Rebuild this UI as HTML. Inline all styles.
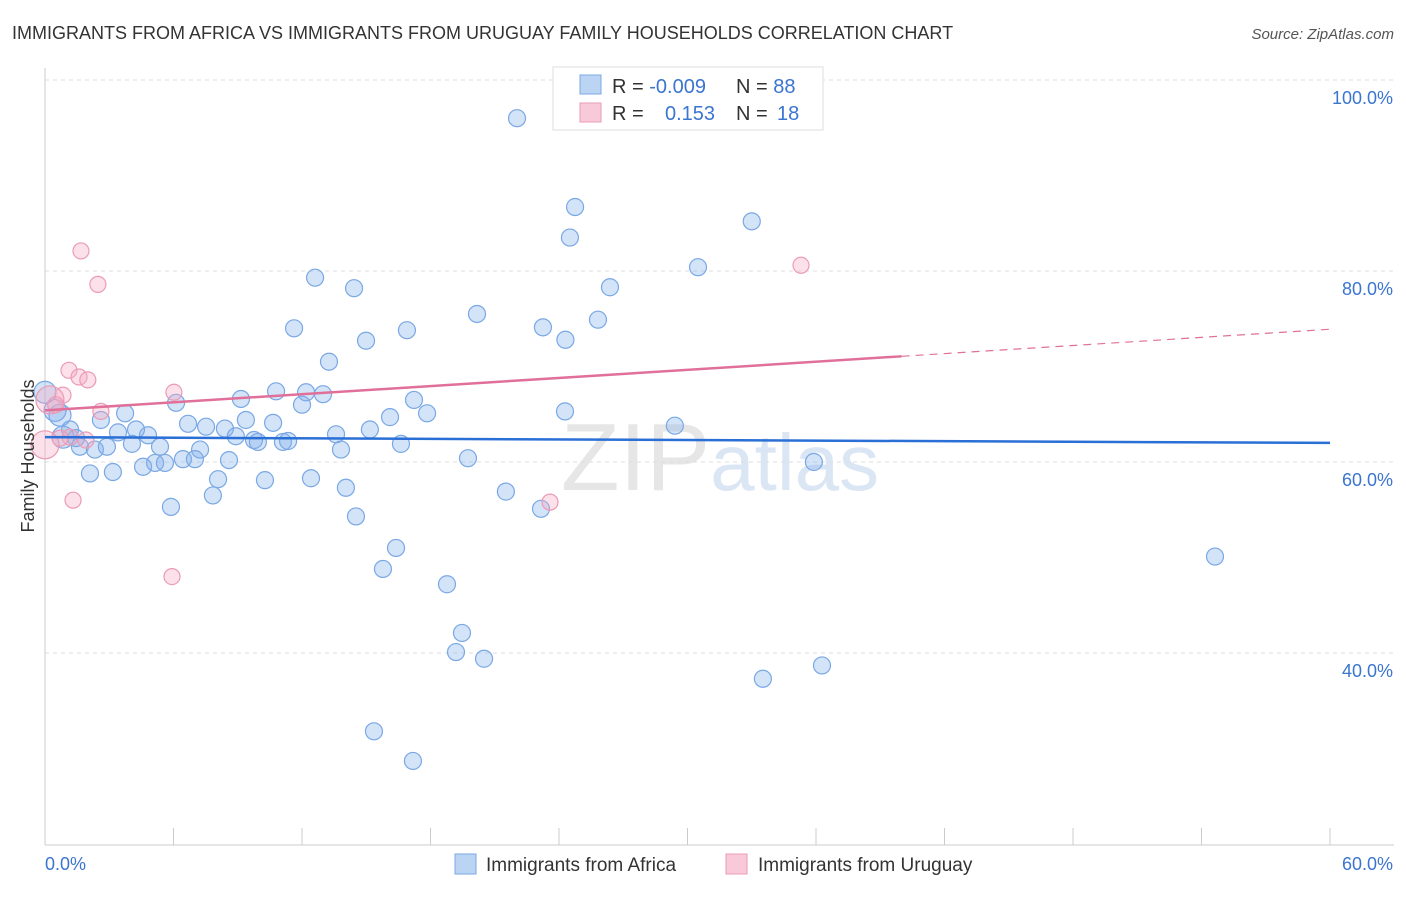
<!DOCTYPE html>
<html><head><meta charset="utf-8"><style>
body{margin:0;background:#fff;font-family:"Liberation Sans",sans-serif}
svg text{font-family:"Liberation Sans",sans-serif}
</style></head><body>
<svg width="1406" height="892" viewBox="0 0 1406 892">
<text x="12" y="39" font-size="18" fill="#333">IMMIGRANTS FROM AFRICA VS IMMIGRANTS FROM URUGUAY FAMILY HOUSEHOLDS CORRELATION CHART</text>
<text x="1394" y="39" font-size="15" fill="#555" text-anchor="end" font-style="italic">Source: ZipAtlas.com</text>
<text x="720" y="490" font-size="96" fill="#e6e6e6" text-anchor="middle" font-family="Liberation Serif">ZIP<tspan fill="#dbe6f5" font-family="Liberation Sans" font-size="80">atlas</tspan></text>
<g id="grid"></g>
<g id="axes"></g>
<g id="marks"></g>
<g id="lines"></g>
<text transform="translate(34,456) rotate(-90)" font-size="18" fill="#333" text-anchor="middle">Family Households</text>
<g>
<rect x="553" y="67" width="270" height="63" fill="#fff" stroke="#ddd"/>
<rect x="580" y="75" width="21" height="19" fill="#bcd4f4" stroke="#7aa8e4"/>
<rect x="580" y="103" width="21" height="19" fill="#f8cad9" stroke="#eb9bb6"/>
<text x="612" y="93" font-size="20" fill="#333">R = <tspan fill="#3a75d0">-0.009</tspan></text>
<text x="736" y="93" font-size="20" fill="#333">N = <tspan fill="#3a75d0">88</tspan></text>
<text x="612" y="120" font-size="20" fill="#333">R = <tspan fill="#3a75d0" x="665">0.153</tspan></text>
<text x="736" y="120" font-size="20" fill="#333">N = <tspan fill="#3a75d0" x="777">18</tspan></text>
</g>
<g>
<rect x="455" y="854" width="21" height="20" fill="#bcd4f4" stroke="#7aa8e4"/>
<text x="486" y="871" font-size="19" fill="#333">Immigrants from Africa</text>
<rect x="726" y="854" width="21" height="20" fill="#f8cad9" stroke="#eb9bb6"/>
<text x="758" y="871" font-size="19" fill="#333">Immigrants from Uruguay</text>
</g>
</svg>
<script>
const yTicks=[40,60,80,100];
const yTickLabels=["40.0%","60.0%","80.0%","100.0%"];
const xEndLabels=["0.0%","60.0%"];
const africaX=[22.04,24.75,24.51,33.0,30.49,26.38,12.61,14.43,11.63,16.9,20.17,23.25,25.82,24.3,14.99,13.26,0,0.47,0.7,6.12,9.15,10.79,12.19,12.98,12.0,17.23,17.84,16.11,24.28,29.41,3.74,2.61,1.17,3.41,4.25,4.81,6.68,7.52,8.4,8.91,9.38,10.65,9.76,9.94,11.11,11.35,13.59,15.17,13.82,16.62,1.63,2.33,2.89,4.06,5.37,7.24,1.45,2.1,3.17,4.58,5.14,5.6,6.44,7.0,8.59,8.08,10.27,12.42,19.75,35.9,7.84,5.88,14.05,21.52,23.16,14.52,16.39,15.78,18.77,54.63,19.47,19.19,20.5,36.28,33.52,15.36,17.18,0.84];
const africaY=[96.0,86.7,83.5,85.2,80.4,78.3,79.3,78.2,74.0,73.8,75.5,74.1,74.9,72.8,72.7,70.5,67.3,65.4,64.9,66.2,66.6,67.4,67.3,67.1,66.0,66.5,65.1,64.7,65.3,63.8,65.1,64.4,63.4,63.1,63.4,62.8,64.0,63.7,63.5,62.7,64.4,64.1,62.3,62.1,62.1,62.2,62.9,63.4,61.3,61.9,61.6,61.3,61.6,61.9,61.6,61.3,62.5,58.8,58.95,59.5,59.9,59.9,60.3,60.3,60.2,58.2,58.1,58.3,60.4,60.0,56.5,55.3,57.3,56.9,55.1,54.3,51.0,48.8,47.2,50.1,42.1,40.1,39.4,38.7,37.3,31.8,28.7,62.6];
const uruguayX=[1.68,2.47,35.3,1.12,1.59,2.0,6.02,0.84,2.61,1.17,0.7,1.91,0,1.31,23.58,5.93,0.23,0.5];
const uruguayY=[82.1,78.6,80.6,69.6,68.9,68.6,67.3,67.0,65.3,62.6,62.5,62.3,61.8,56.0,55.8,48.0,66.5,66.0];
const africaTrend=[62.6,62.0];
const uruguayTrend=[65.4,73.9];
const uruguaySolidEnd=40;
const X0=45,X1=1330;
const xs=v=>X0+v/60*(X1-X0);
const ys=v=>462-(v-60)*9.55;
const NS="http://www.w3.org/2000/svg";
function mk(t,a,p){const e=document.createElementNS(NS,t);for(const k in a)e.setAttribute(k,a[k]);p.appendChild(e);return e;}
const grid=document.getElementById('grid'),axes=document.getElementById('axes'),marks=document.getElementById('marks'),lines=document.getElementById('lines');
yTicks.forEach((t,i)=>{
 const l=mk('line',{x1:X0,x2:1394,y1:ys(t),y2:ys(t),stroke:'#ddd','stroke-dasharray':'4,4'},grid);
 
 
 const tx=mk('text',{x:1393,y:ys(t)+24,'font-size':18,fill:'#3a75d0','text-anchor':'end'},axes);
 tx.textContent=yTickLabels[i];
 
 
});
const ax=mk('line',{x1:X0,x2:1394,y1:845,y2:845,stroke:'#ccc'},axes);


const ay=mk('line',{x1:X0,x2:X0,y1:68,y2:845,stroke:'#ccc'},axes);


for(let i=0;i<=10;i++){
 const tk=mk('line',{x1:xs(i*6),x2:xs(i*6),y1:828,y2:845,stroke:'#ccc'},axes);
 
 
}
const xl0=mk('text',{x:45,y:870,'font-size':18,fill:'#3a75d0'},axes);
xl0.textContent=xEndLabels[0];


const xl1=mk('text',{x:1393,y:870,'font-size':18,fill:'#3a75d0','text-anchor':'end'},axes);
xl1.textContent=xEndLabels[1];


africaX.forEach((x,i)=>{
 const c=mk('circle',{cx:xs(x),cy:ys(africaY[i]),r:x<1?11:8.5,fill:'rgba(130,175,235,0.35)',stroke:'#7aa8e4','stroke-width':1.2},marks);
 
 
});
uruguayX.forEach((x,i)=>{
 const c=mk('circle',{cx:xs(x),cy:ys(uruguayY[i]),r:x<0.5?14:8,fill:'rgba(245,170,195,0.35)',stroke:'#eb9bb6','stroke-width':1.2},marks);
 
 
});
const bl=mk('line',{x1:xs(0),y1:ys(africaTrend[0]),x2:xs(60),y2:ys(africaTrend[1]),stroke:'#2a6fd6','stroke-width':2.5},lines);


const pm=uruguayTrend[0]+(uruguayTrend[1]-uruguayTrend[0])*uruguaySolidEnd/60;
const pl=mk('line',{x1:xs(0),y1:ys(uruguayTrend[0]),x2:xs(uruguaySolidEnd),y2:ys(pm),stroke:'#e0709a','stroke-width':2.5},lines);


const pd=mk('line',{x1:xs(uruguaySolidEnd),y1:ys(pm),x2:xs(60),y2:ys(uruguayTrend[1]),stroke:'#e0709a','stroke-width':1.2,'stroke-dasharray':'8,6'},lines);


</script>
</body></html>
